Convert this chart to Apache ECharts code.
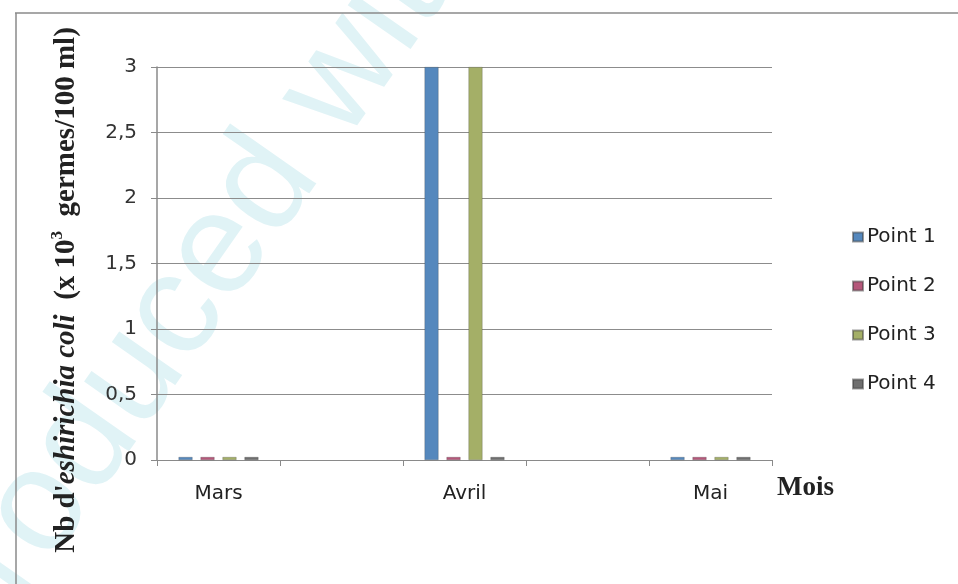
<!DOCTYPE html>
<html>
<head>
<meta charset="utf-8">
<script src="https://cdn.jsdelivr.net/npm/echarts@6/dist/echarts.min.js"></script>
<style>html,body{margin:0;padding:0;background:#fff}#c{width:958px;height:584px}</style>
</head>
<body>
<div id="c"></div>
<script>
// Data
var months = ['Mars', '', 'Avril', '', 'Mai'];
var seriesNames = ['Point 1', 'Point 2', 'Point 3', 'Point 4'];
var point1 = [0, null, 3, null, 0];
var point2 = [0, null, 0, null, 0];
var point3 = [0, null, 3, null, 0];
var point4 = [0, null, 0, null, 0];
var yMin = 0, yMax = 3, yStep = 0.5;

var colors = ['#5588BD', '#B5577A', '#A4AF67', '#6E6E6E'];
var values = [point1, point2, point3, point4];

var chart = echarts.init(document.getElementById('c'));
var series = seriesNames.map(function (n, i) {
  return {
    name: n, type: 'bar', data: values[i],
    barWidth: 14, barGap: '57%', barMinHeight: 3,
    itemStyle: { color: colors[i], borderColor: 'rgba(60,60,60,0.5)', borderWidth: 0.5 }
  };
});

var serif = '"Liberation Serif","Times New Roman",serif';
chart.setOption({
  animation: false,
  backgroundColor: '#fff',
  color: colors,
  grid: { left: 157, right: 186, top: 67, bottom: 124 },
  xAxis: {
    type: 'category', data: months,
    axisLine: { lineStyle: { color: '#8a8a8a', width: 1 } },
    axisTick: { show: true, length: 6, lineStyle: { color: '#8a8a8a' } },
    axisLabel: { color: '#222', fontSize: 20, fontFamily: '"DejaVu Sans",sans-serif', margin: 24, interval: 0 },
    splitLine: { show: false }
  },
  yAxis: {
    type: 'value', min: yMin, max: yMax, interval: yStep,
    axisLine: { show: true, lineStyle: { color: '#8a8a8a', width: 1.5 } },
    axisTick: { show: true, length: 6, lineStyle: { color: '#8a8a8a' } },
    axisLabel: {
      color: '#333', fontSize: 20, fontFamily: '"DejaVu Sans",sans-serif', margin: 20,
      formatter: function (v) { return String(v).replace('.', ','); }
    },
    splitLine: { show: true, lineStyle: { color: '#8c8c8c', width: 1.2 } }
  },
  legend: {
    orient: 'vertical', left: 847, top: 222, itemGap: 29,
    itemWidth: 10, itemHeight: 9, icon: 'rect',
    textStyle: { color: '#222', fontSize: 20, fontFamily: '"DejaVu Sans",sans-serif', padding: [0, 0, 0, -1] },
    data: seriesNames
  },
  graphic: [
    {
      type: 'text', x: -164, y: 800, z: -10, silent: true,
      rotation: 55 * Math.PI / 180,
      style: { text: 'Reproduced with permission of the copyright owner', fill: '#e0f3f6', font: '145px "Liberation Sans", sans-serif', verticalAlign: 'middle', align: 'left' }
    },
    { type: 'line', shape: { x1: 15, y1: 13, x2: 958, y2: 13 }, style: { stroke: '#8a8a8a', lineWidth: 1.5 } },
    { type: 'line', shape: { x1: 16, y1: 13, x2: 16, y2: 584 }, style: { stroke: '#8a8a8a', lineWidth: 1.5 } },
    {
      type: 'text', x: 67, y: 290, rotation: Math.PI / 2,
      style: {
        text: "{b|Nb d'}{i|eshirichia coli}{b|  (x 10}{s|3}{b|  germes/100 ml)}",
        align: 'center', verticalAlign: 'middle',
        rich: {
          b: { font: 'bold 29px ' + serif, fill: '#222' },
          i: { font: 'italic bold 29px ' + serif, fill: '#222' },
          s: { font: 'bold 17px ' + serif, fill: '#222', verticalAlign: 'top', padding: [0, 0, 18, 0] }
        }
      }
    },
    {
      type: 'text', x: 777, y: 488,
      style: { text: 'Mois', font: 'bold 27px ' + serif, fill: '#222', align: 'left', verticalAlign: 'middle' }
    }
  ],
  series: series
});
</script>
</body>
</html>
